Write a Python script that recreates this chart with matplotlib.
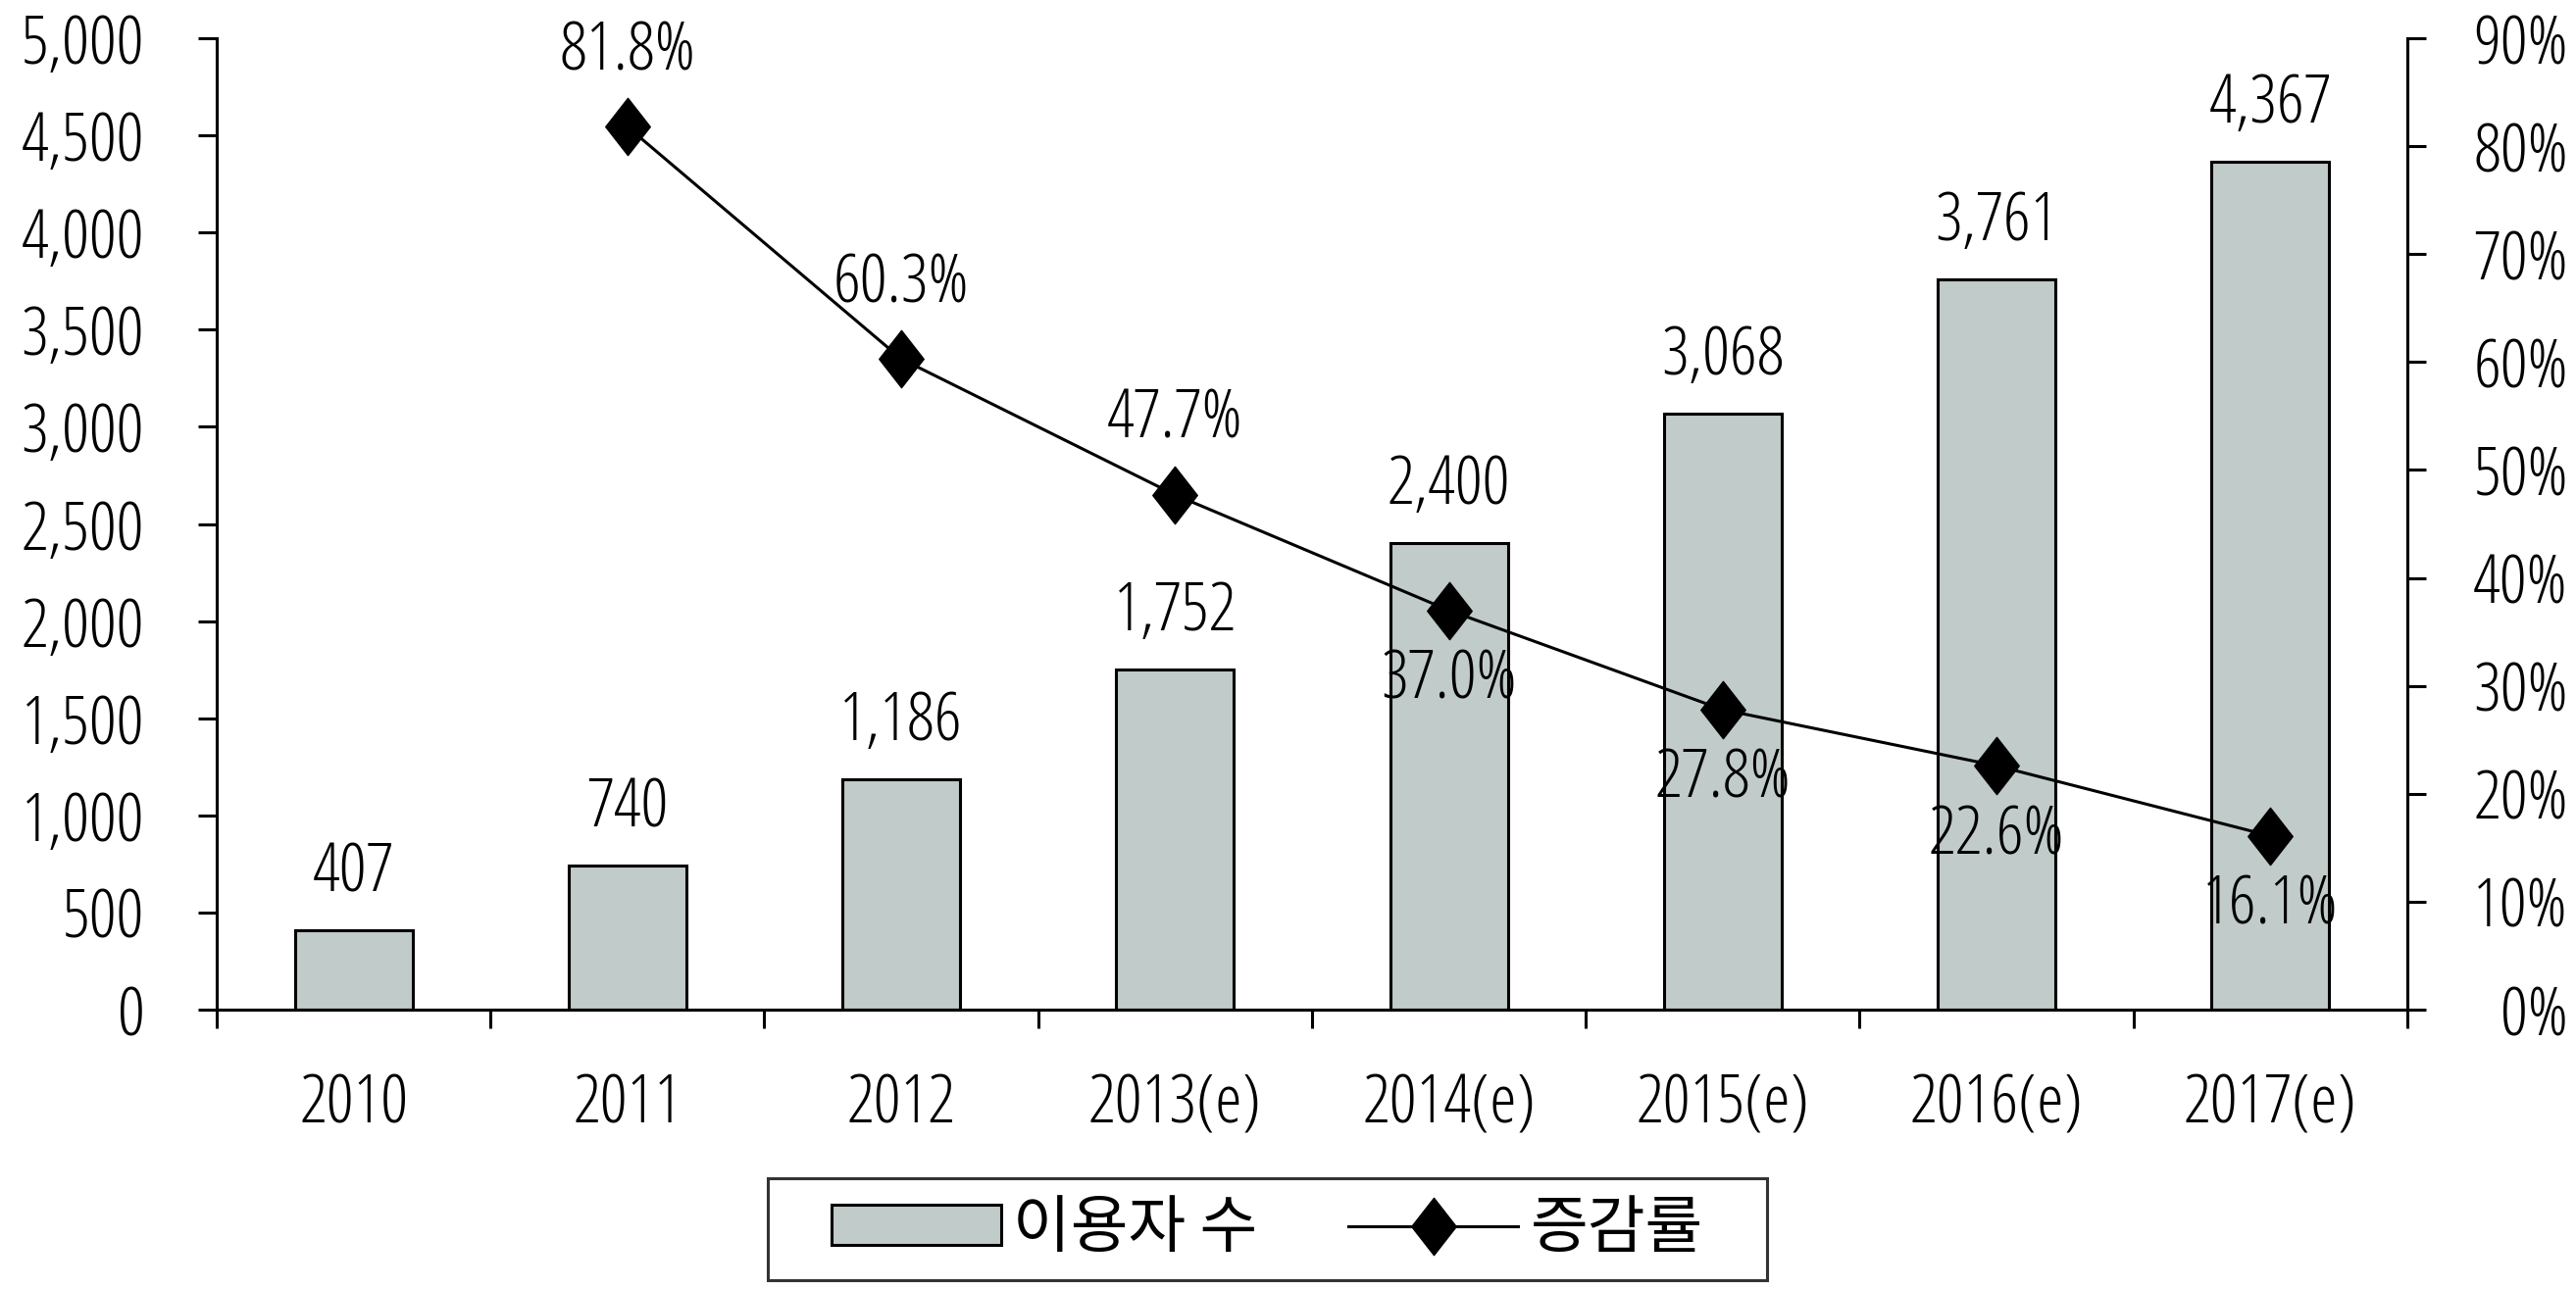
import matplotlib
matplotlib.use("Agg")
import matplotlib.pyplot as plt
from matplotlib.path import Path
from matplotlib.ticker import FixedLocator

plt.rcParams['font.family'] = ['Open Sans', 'Noto Sans CJK KR']
plt.rcParams['font.stretch'] = 'condensed'
plt.rcParams['font.weight'] = 300

# data
years = ['2010', '2011', '2012', '2013(e)', '2014(e)', '2015(e)', '2016(e)', '2017(e)']
users = [407, 740, 1186, 1752, 2400, 3068, 3761, 4367]
growth = [None, 81.8, 60.3, 47.7, 37.0, 27.8, 22.6, 16.1]
label_above = [None, True, True, True, False, False, False, False]

FS = 50
LW = 2.2

fig = plt.figure(figsize=(26.27, 13.15), dpi=100)
ax = fig.add_axes([0.0841, 0.2167, 0.8504, 0.7536])
ax2 = ax.twinx()

x = list(range(len(years)))
bars = ax.bar(x, users, width=0.43, color='#c1cbc9', edgecolor='black', linewidth=LW,
              label='이용자 수', zorder=2)
for xi, v in zip(x, users):
    ax.annotate(f'{v:,}', (xi, v), xytext=(0, 58), textcoords='offset pixels',
                ha='center', va='center', fontsize=FS)

ax.set_xlim(-0.5, len(years) - 0.5)
ax.set_ylim(0, 5000)
ax.set_yticks(range(0, 5001, 500))
ax.set_yticklabels([f'{v:,}' for v in range(0, 5001, 500)], fontsize=FS)
ax.set_xticks(x)
ax.set_xticklabels(years, fontsize=FS)
ax.xaxis.set_minor_locator(FixedLocator([i - 0.5 for i in range(len(years) + 1)]))
ax.tick_params(axis='x', which='major', length=0, pad=46)
ax.tick_params(axis='x', which='minor', length=14, width=LW, direction='out')
ax.tick_params(axis='y', length=14, width=LW, direction='out', pad=39)

# growth line on the right axis
gx = [xi for xi, g in zip(x, growth) if g is not None]
gy = [g for g in growth if g is not None]
diamond = Path([(0, 1), (0.78, 0), (0, -1), (-0.78, 0), (0, 1)],
               [Path.MOVETO, Path.LINETO, Path.LINETO, Path.LINETO, Path.CLOSEPOLY])
ax2.plot(gx, gy, color='black', linewidth=LW, marker=diamond, markersize=42,
         markerfacecolor='black', markeredgecolor='black', label='증감률', zorder=3)
for xi, g, up in zip(x, growth, label_above):
    if g is None:
        continue
    ax2.annotate(f'{g:.1f}%', (xi, g), xytext=(0, 76 if up else -72),
                 textcoords='offset pixels', ha='center', va='center', fontsize=FS,
                 zorder=5)

ax2.set_ylim(0, 90)
ax2.set_yticks(range(0, 91, 10))
ax2.set_yticklabels([f'{v}%' for v in range(0, 91, 10)], fontsize=FS, ha='right')
ax2.tick_params(axis='y', length=14, width=LW, direction='out', pad=104)

for a in (ax, ax2):
    a.spines['top'].set_visible(False)
    for s in ('left', 'right', 'bottom'):
        a.spines[s].set_linewidth(LW)


# legend frame: wider padding left/right than top/bottom
def wide_box(x0, y0, width, height, mutation_size):
    px = 0.72 * mutation_size
    x0, x1 = x0 - px, x0 + width + px
    y1 = y0 + height
    return Path([(x0, y0), (x1, y0), (x1, y1), (x0, y1), (x0, y0)],
                [Path.MOVETO, Path.LINETO, Path.LINETO, Path.LINETO, Path.CLOSEPOLY])


handles = [bars, ax2.get_lines()[0]]
leg = fig.legend(handles, ['이용자 수', '증감률'], loc='center',
                 bbox_to_anchor=(0.492, 0.0464), ncol=2,
                 prop={'family': 'Noto Sans CJK KR', 'size': 46, 'weight': 300},
                 frameon=True, fancybox=False, edgecolor='black',
                 handlelength=2.7, handleheight=0.6, handletextpad=0.2,
                 columnspacing=1.45, borderpad=0.3)
leg.get_frame().set_linewidth(LW)
leg.get_frame().set_boxstyle(wide_box)

fig.savefig('out.png', dpi=100)
